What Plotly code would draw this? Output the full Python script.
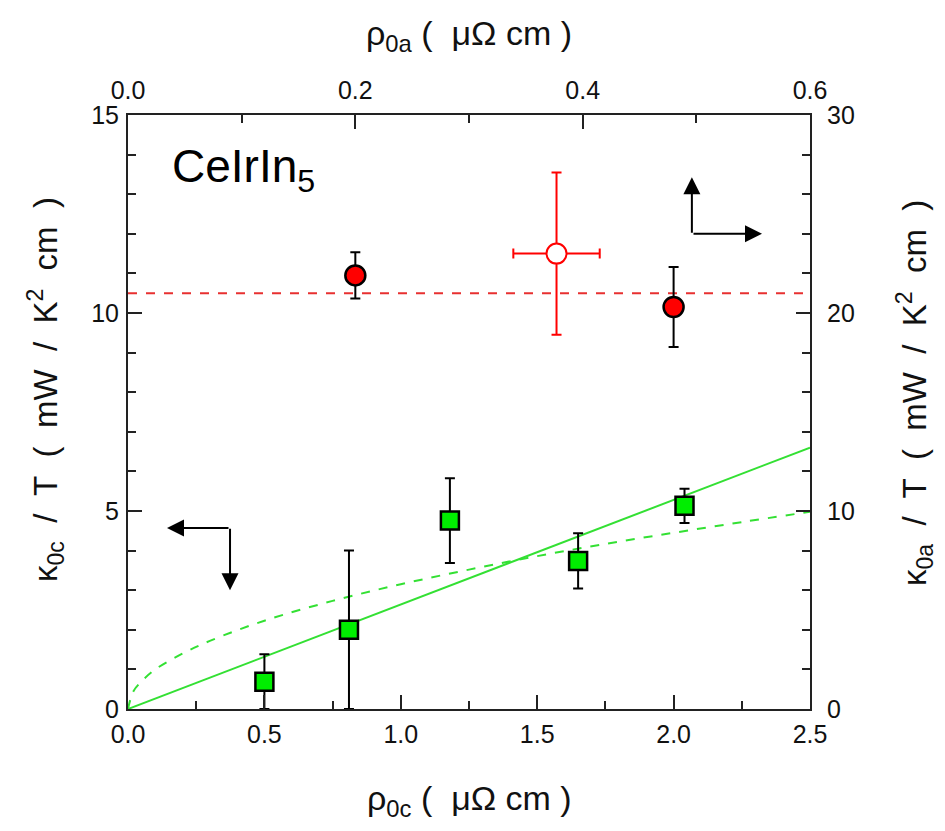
import plotly.graph_objects as go

# Green squares: kappa_0c/T vs rho_0c (bottom/left axes)
rho_c = [0.50, 0.81, 1.18, 1.65, 2.04]
kap_c = [0.69, 2.0, 4.76, 3.74, 5.13]
kap_c_err = [0.69, 2.0, 1.07, 0.70, 0.43]

# Red filled circles: kappa_0a/T vs rho_0a (top/right axes)
rho_a = [0.200, 0.480]
kap_a = [21.9, 20.3]
kap_a_err = [1.17, 2.02]

# Red open circle
rho_a_open = [0.377]
kap_a_open = [23.0]
rho_a_open_err = [0.038]
kap_a_open_err = [4.1]

# Red dashed average line (right axis)
avg_x = [0.0, 0.6]
avg_y = [21.0, 21.0]

# Green solid linear fit
lin_x = [0.0, 2.5]
lin_y = [0.0, 6.6]

# Green dashed curve
dash_x = [0, 0.02, 0.05, 0.1, 0.2, 0.3, 0.5, 0.75, 1.0, 1.25, 1.5, 1.75, 2.0, 2.25, 2.5]
dash_y = [0, 0.45, 0.70, 1.0, 1.40, 1.72, 2.23, 2.73, 3.15, 3.52, 3.86, 4.17, 4.45, 4.72, 4.98]

# Tick labels
x_ticks = [0.0, 0.5, 1.0, 1.5, 2.0, 2.5]
x2_ticks = [0.0, 0.2, 0.4, 0.6]
y_ticks = [0, 5, 10, 15]
y2_ticks = [0, 10, 20, 30]

green = "#33e033"
red = "#ff0000"
font = "Liberation Sans"
tick_size = 25
title_size = 34
ytitle_size = 33
S = "\u00a0"  # non-breaking space for wide spacing
S2 = S + " "

fig = go.Figure()

fig.add_trace(go.Scatter(x=avg_x, y=avg_y, xaxis="x2", yaxis="y2", mode="lines",
                         line=dict(color="#e83030", width=2, dash="dash"), showlegend=False))
fig.add_trace(go.Scatter(x=lin_x, y=lin_y, mode="lines",
                         line=dict(color=green, width=2), showlegend=False))
fig.add_trace(go.Scatter(x=dash_x, y=dash_y, mode="lines",
                         line=dict(color=green, width=2, dash="dash", shape="spline"), showlegend=False))
fig.add_trace(go.Scatter(x=rho_c, y=kap_c, mode="markers",
                         marker=dict(symbol="square", size=18, color="#00ee00",
                                     line=dict(color="black", width=2.5)),
                         error_y=dict(type="data", array=kap_c_err, color="black", thickness=2, width=5),
                         showlegend=False))
fig.add_trace(go.Scatter(x=rho_a_open, y=kap_a_open, xaxis="x2", yaxis="y2", mode="markers",
                         marker=dict(symbol="circle", size=20, color="white",
                                     line=dict(color=red, width=2)),
                         error_y=dict(type="data", array=kap_a_open_err, color=red, thickness=2, width=5),
                         error_x=dict(type="data", array=rho_a_open_err, color=red, thickness=2, width=5),
                         showlegend=False))
fig.add_trace(go.Scatter(x=rho_a, y=kap_a, xaxis="x2", yaxis="y2", mode="markers",
                         marker=dict(symbol="circle", size=20, color=red,
                                     line=dict(color="black", width=2.5)),
                         error_y=dict(type="data", array=kap_a_err, color="black", thickness=2, width=5),
                         showlegend=False))

axis_common = dict(showgrid=False, zeroline=False, showline=True, linecolor="#222",
                   linewidth=2, ticks="inside", ticklen=14, tickwidth=2, tickcolor="#222",
                   automargin=False,
                   tickfont=dict(family=font, size=tick_size, color="#111"))

def minor(dt):
    return dict(dtick=dt, ticks="inside", ticklen=8, tickwidth=1.5, tickcolor="#222")

kc_title = f"κ<sub>0c</sub>{S2}/{S2}T{S2}({S2}mW{S2}/{S2}K<sup>2</sup>{S2}cm{S2})"
ka_title = f"κ<sub>0a</sub>{S2}/{S2}T{S2}({S2}mW{S2}/{S2}K<sup>2</sup>{S2}cm{S2})"
rc_title = f"ρ<sub>0c</sub> ({S2}μΩ cm )"
ra_title = f"ρ<sub>0a</sub> ({S2}μΩ cm )"

fig.update_layout(
    width=945, height=831,
    # page body adds an 8px offset; margins compensate so the plot sits at x 128-810, y 115-709
    margin=dict(l=120, r=143, t=107, b=130),
    paper_bgcolor="white", plot_bgcolor="white",
    font=dict(family=font, color="#111"),
    xaxis=dict(range=[0, 2.5], tickmode="array", tickvals=x_ticks,
               ticktext=[f"{v:.1f}" for v in x_ticks], minor=minor(0.25),
               ticklabelstandoff=2, **axis_common),
    xaxis2=dict(range=[0, 0.6], tickmode="array", tickvals=x2_ticks,
                ticktext=[f"{v:.1f}" for v in x2_ticks], overlaying="x", side="top",
                anchor="y2", minor=minor(0.1), ticklabelstandoff=4, **axis_common),
    yaxis=dict(range=[0, 15], tickmode="array", tickvals=y_ticks,
               ticktext=[str(v) for v in y_ticks], minor=minor(1),
               ticklabelstandoff=2, **axis_common),
    yaxis2=dict(range=[0, 30], tickmode="array", tickvals=y2_ticks,
                ticktext=[str(v) for v in y2_ticks], overlaying="y", side="right", anchor="x",
                minor=minor(2), ticklabelstandoff=10, **axis_common),
    annotations=[
        # axis titles
        dict(x=0.5, y=0, xref="paper", yref="paper", yshift=-91, showarrow=False,
             xanchor="center", yanchor="middle",
             text=rc_title, font=dict(family=font, size=title_size)),
        dict(x=0.5, y=1, xref="paper", yref="paper", yshift=80, showarrow=False,
             xanchor="center", yanchor="middle",
             text=ra_title, font=dict(family=font, size=title_size)),
        dict(x=0, y=0.537, xref="paper", yref="paper", xshift=-83, showarrow=False, textangle=-90,
             xanchor="center", yanchor="middle",
             text=kc_title, font=dict(family=font, size=ytitle_size)),
        dict(x=1, y=0.532, xref="paper", yref="paper", xshift=105, showarrow=False, textangle=-90,
             xanchor="center", yanchor="middle",
             text=ka_title, font=dict(family=font, size=ytitle_size)),
        # compound label
        dict(x=0.155, y=13.63, xref="x", yref="y", text="CeIrIn<sub>5</sub>", showarrow=False,
             xanchor="left", yanchor="middle", font=dict(family=font, size=46, color="black")),
        # left-pointing arrow
        dict(x=0.143, y=4.57, xref="x", yref="y", ax=63, ay=0, axref="pixel", ayref="pixel",
             text="", showarrow=True, arrowhead=2, arrowsize=1.7, arrowwidth=2, arrowcolor="black"),
        # down-pointing arrow
        dict(x=0.374, y=3.0, xref="x", yref="y", ax=0, ay=-63, axref="pixel", ayref="pixel",
             text="", showarrow=True, arrowhead=2, arrowsize=1.7, arrowwidth=2, arrowcolor="black"),
        # right-pointing arrow
        dict(x=2.324, y=12.0, xref="x", yref="y", ax=-70, ay=0, axref="pixel", ayref="pixel",
             text="", showarrow=True, arrowhead=2, arrowsize=1.7, arrowwidth=2, arrowcolor="black"),
        # up-pointing arrow
        dict(x=2.067, y=13.43, xref="x", yref="y", ax=0, ay=57, axref="pixel", ayref="pixel",
             text="", showarrow=True, arrowhead=2, arrowsize=1.7, arrowwidth=2, arrowcolor="black"),
    ],
)

fig.write_html("out.html")
